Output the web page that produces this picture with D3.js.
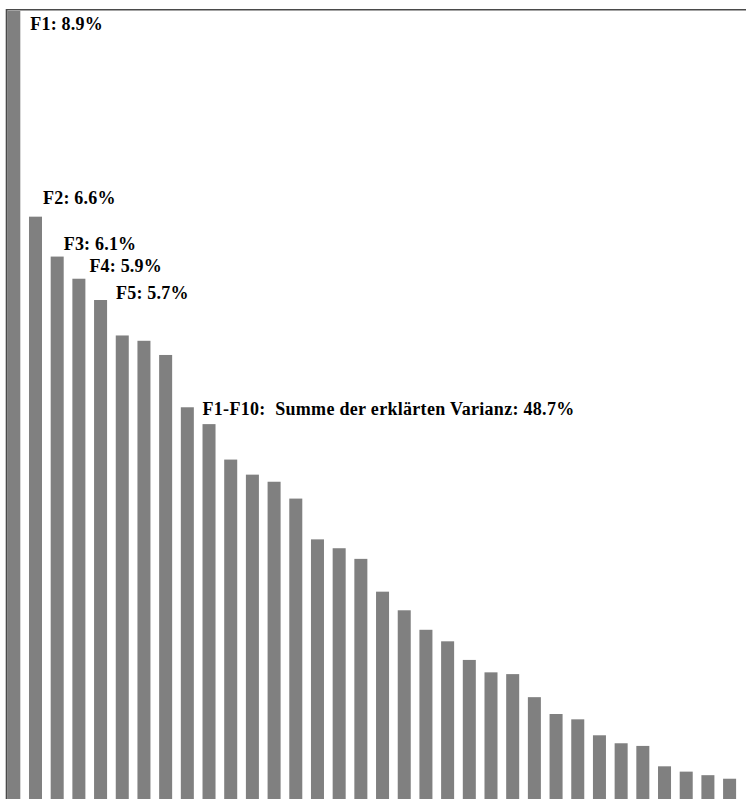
<!DOCTYPE html>
<html>
<head>
<meta charset="utf-8">
<script src="https://cdn.jsdelivr.net/npm/d3@7"></script>
<style>
	body { margin: 0; background: #fff; }
	svg { display: block; }
	text { white-space: pre; }
</style>
</head>
<body>
<svg id="scree" width="746" height="799"></svg>
<script>
// factors F1..F34, explained variance in %
const factors = d3.range(1, 35).map(i => 'F' + i);
const variance = [
	8.9, 6.58, 6.13, 5.88, 5.64, 5.24, 5.18, 5.02, 4.43, 4.24,
	3.84, 3.67, 3.59, 3.40, 2.94, 2.84, 2.72, 2.35, 2.14, 1.92,
	1.79, 1.58, 1.44, 1.42, 1.16, 0.97, 0.91, 0.73, 0.64, 0.61,
	0.38, 0.32, 0.28, 0.24
];
const labelTexts = ['F1: 8.9%', 'F2: 6.6%', 'F3: 6.1%', 'F4: 5.9%', 'F5: 5.7%'];
const sumText = 'F1-F10:  Summe der erklärten Varianz: 48.7%';

const svg = d3.select('#scree');
const //
	chartWidth = 746,
	chartHeight = 799,
	plotLeft = 7.3,
	plotTop = 11;

const x = d3.scaleBand()
	.domain(factors)
	.range([plotLeft, 736.1])
	.paddingInner(0.4)
	.paddingOuter(0);

const y = d3.scaleLinear()
	.domain([0, 8.9])
	.range([800, plotTop]);

//bars
svg.append('g')
	.selectAll('rect')
	.data(variance)
	.enter()
	.append('rect')
	.attr('x', (d, i) => x(factors[i]))
	.attr('y', d => y(d))
	.attr('width', x.bandwidth())
	.attr('height', d => y(0) - y(d))
	.attr('fill', '#808080');

//frame (top + left)
svg.append('path')
	.attr('d', `M ${plotLeft - 0.8} ${chartHeight} V ${plotTop - 1.3} H ${chartWidth}`)
	.attr('fill', 'none')
	.attr('stroke', '#4a4a4a')
	.attr('stroke-width', 1.6);

// label offsets from the bar's top right corner
const labelOffsets = [[10, 19], [1, -13], [0, -7], [4, -7], [9, -1]];

const txt = svg.append('g')
	.attr('font-family', '"Liberation Serif", "Times New Roman", serif')
	.attr('font-weight', 'bold')
	.attr('font-size', 18)
	.attr('fill', '#000');

txt.selectAll('text.flabel')
	.data(labelTexts)
	.enter()
	.append('text')
	.attr('class', 'flabel')
	.attr('x', (d, i) => x(factors[i]) + x.bandwidth() + labelOffsets[i][0])
	.attr('y', (d, i) => y(variance[i]) + labelOffsets[i][1])
	.attr('letter-spacing', 0.2)
	.text(d => d);

// sum label sits above bar F10
txt.append('text')
	.attr('x', x(factors[9]))
	.attr('y', y(variance[9]) - 9)
	.attr('letter-spacing', 0.3)
	.text(sumText);
</script>
</body>
</html>
